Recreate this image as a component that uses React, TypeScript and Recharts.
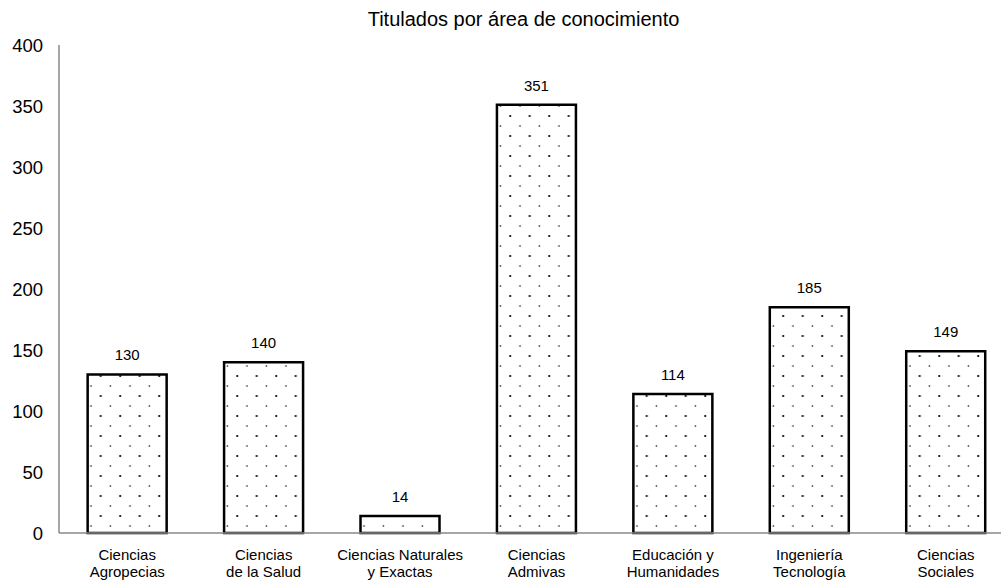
import { BarChart, Bar, XAxis, YAxis, LabelList } from 'recharts';

const areas = [
  'Ciencias|Agropecias',
  'Ciencias|de la Salud',
  'Ciencias Naturales|y Exactas',
  'Ciencias|Admivas',
  'Educación y|Humanidades',
  'Ingeniería|Tecnología',
  'Ciencias|Sociales',
];
const titulados = [130, 140, 14, 351, 114, 185, 149];
const yTicks = [0, 50, 100, 150, 200, 250, 300, 350, 400];

const data = areas.map((area, i) => ({ area, titulados: titulados[i] }));

const FONT = '"Liberation Sans", Arial, sans-serif';

// two-line category labels, split on "|"
function AreaTick(props: any) {
  const { x, y, payload } = props;
  const lines = String(payload.value).split('|');
  return (
    <text x={x} y={y} textAnchor="middle" fill="#000" fontSize={15} fontFamily={FONT}>
      {lines.map((l, i) => (
        <tspan key={i} x={x} dy={i === 0 ? 19 : 17}>
          {l}
        </tspan>
      ))}
    </text>
  );
}

export default function App() {
  return (
    <div
      style={{
        position: 'absolute',
        left: 0,
        top: 0,
        width: 1001,
        height: 582,
        overflow: 'hidden',
        background: '#fff',
      }}
    >
      <div
        style={{
          position: 'absolute',
          left: 0,
          width: 1047,
          top: 8,
          textAlign: 'center',
          fontFamily: FONT,
          fontSize: 20,
          color: '#000',
          whiteSpace: 'nowrap',
        }}
      >
        Titulados por área de conocimiento
      </div>
      <BarChart
        width={1014}
        height={582}
        data={data}
        margin={{ top: 45, right: 0, bottom: 19, left: 0 }}
        barCategoryGap="21%"
      >
        <defs>
          <pattern id="dots" patternUnits="userSpaceOnUse" width="19.5" height="20">
            <rect width="19.5" height="20" fill="#fff" />
            <circle cx="13" cy="6" r="0.8" fill="#000" />
            <circle cx="3.2" cy="16" r="1.1" fill="#000" />
          </pattern>
        </defs>
        <XAxis
          dataKey="area"
          stroke="#888"
          strokeWidth={1.5}
          tickLine={false}
          interval={0}
          tick={<AreaTick />}
        />
        <YAxis
          width={59}
          domain={[0, 400]}
          ticks={yTicks}
          stroke="#888"
          strokeWidth={1.5}
          tickLine={false}
          tickMargin={10}
          tick={{ fill: '#000', fontSize: 18.5, fontFamily: FONT }}
        />
        <Bar
          dataKey="titulados"
          fill="url(#dots)"
          stroke="#000"
          strokeWidth={2.5}
          isAnimationActive={false}
        >
          <LabelList
            dataKey="titulados"
            position="top"
            offset={14}
            fill="#000"
            fontSize={15}
            fontFamily={FONT}
          />
        </Bar>
      </BarChart>
    </div>
  );
}
